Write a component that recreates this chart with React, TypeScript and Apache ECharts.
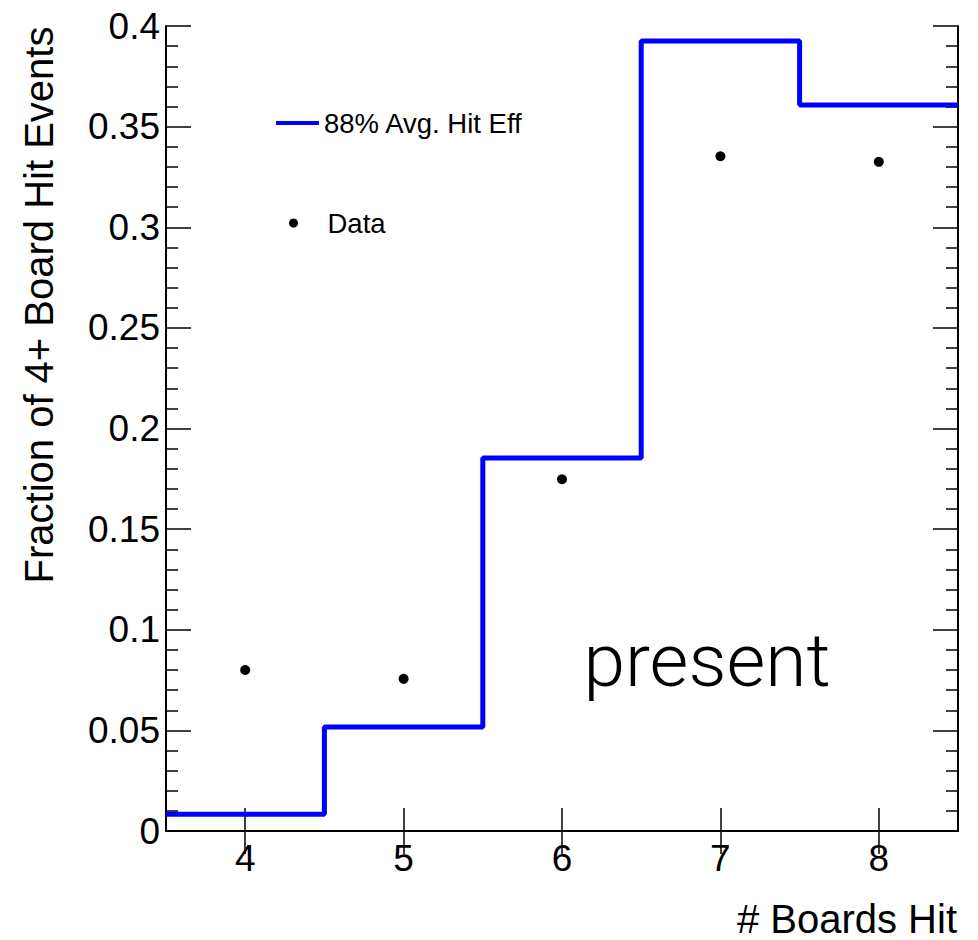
import React, { useEffect, useRef } from 'react';
import * as echarts from 'echarts';

const boards = [4, 5, 6, 7, 8];
const simFraction = [0.0083, 0.0517, 0.1854, 0.3926, 0.3607];
const dataFraction = [0.08, 0.0756, 0.1748, 0.3353, 0.3325];
const xTicks = [4, 5, 6, 7, 8];
const simName = '88% Avg. Hit Eff';
const dataName = 'Data';
const xTitle = '# Boards Hit';
const yTitle = 'Fraction of 4+ Board Hit Events';
const stampText = 'present';

const FONT = '"Liberation Sans", Arial, Helvetica, sans-serif';

export default function App() {
  const ref = useRef<HTMLDivElement>(null);
  useEffect(() => {
    document.body.style.margin = '0';
    if (!ref.current) return;
    const chart = echarts.init(ref.current, undefined, { renderer: 'svg' });
    const stepData: number[][] = boards.map((b, i) => [b - 0.5, simFraction[i]]);
    stepData.push([boards[boards.length - 1] + 0.5, simFraction[simFraction.length - 1]]);
    const scatterData = boards.map((b, i) => [b, dataFraction[i]]);

    const axisLine = { show: true, lineStyle: { color: '#000', width: 2 } };
    const xMin = boards[0] - 0.5;
    const xMax = boards[boards.length - 1] + 0.5;

    chart.setOption({
      animation: false,
      backgroundColor: '#fff',
      grid: { left: 166, right: 20, top: 26, bottom: 109, containLabel: false },
      xAxis: [
        {
          type: 'value', position: 'bottom', min: xMin, max: xMax,
          axisLine,
          axisTick: { show: true, inside: true, length: 23, customValues: xTicks, lineStyle: { color: '#000', width: 1.5 } },
          axisLabel: { show: true, customValues: xTicks, margin: 9, fontSize: 37, color: '#000', fontFamily: FONT },
          splitLine: { show: false },
        },
        {
          type: 'value', position: 'top', min: xMin, max: xMax,
          axisLine,
          axisTick: { show: true, inside: true, length: 23, customValues: xTicks, lineStyle: { color: '#000', width: 1.5 } },
          axisLabel: { show: false },
          splitLine: { show: false },
        },
      ],
      yAxis: [
        {
          type: 'value', position: 'left', min: 0, max: 0.4, interval: 0.05,
          axisLine,
          axisTick: { show: true, inside: true, length: 25, lineStyle: { color: '#000', width: 1.5 } },
          minorTick: { show: true, splitNumber: 5, length: 12, lineStyle: { color: '#000', width: 1.5 } },
          axisLabel: { show: true, margin: 6, fontSize: 37, color: '#000', fontFamily: FONT },
          splitLine: { show: false },
          minorSplitLine: { show: false },
        },
        {
          type: 'value', position: 'right', min: 0, max: 0.4, interval: 0.05,
          axisLine,
          axisTick: { show: true, inside: true, length: 25, lineStyle: { color: '#000', width: 1.5 } },
          minorTick: { show: true, splitNumber: 5, length: 12, lineStyle: { color: '#000', width: 1.5 } },
          axisLabel: { show: false },
          splitLine: { show: false },
          minorSplitLine: { show: false },
        },
      ],
      legend: [
        {
          data: [{ name: simName, icon: 'rect', itemStyle: { color: '#0000ff' } }], orient: 'vertical', left: 276, top: 109, padding: 0,
          itemWidth: 43, itemHeight: 4,
          textStyle: { fontSize: 27.5, color: '#000', fontFamily: FONT, lineHeight: 28 },
          selectedMode: false,
        },
        {
          data: [{ name: dataName, icon: 'circle', itemStyle: { color: '#000', opacity: 1 } }], orient: 'vertical', left: 289, top: 209, padding: 0,
          itemWidth: 58, itemHeight: 9,
          textStyle: { fontSize: 27.5, color: '#000', fontFamily: FONT, lineHeight: 28 },
          selectedMode: false,
        },
      ],
      series: [
        {
          name: simName, type: 'line', data: stepData, step: 'end',
          xAxisIndex: 0, yAxisIndex: 0,
          symbol: 'none', showSymbol: false,
          lineStyle: { color: '#0000ff', width: 5 },
          itemStyle: { color: '#0000ff' },
          clip: true,
        },
        {
          name: dataName, type: 'scatter', data: scatterData,
          xAxisIndex: 0, yAxisIndex: 0,
          symbol: 'circle', symbolSize: 10,
          itemStyle: { color: '#000', opacity: 1 },
        },
      ],
      graphic: [
        {
          type: 'text', x: 39, y: 305, rotation: Math.PI / 2,
          style: { text: yTitle, fontSize: 40, fontFamily: FONT, fill: '#000', align: 'center', verticalAlign: 'middle' },
        },
        {
          type: 'text', x: 957, y: 919,
          style: { text: xTitle, fontSize: 40, fontFamily: FONT, fill: '#000', align: 'right', verticalAlign: 'middle' },
        },
        {
          type: 'text', x: 707, y: 660,
          style: { text: stampText, fontSize: 75, fontWeight: 300, fontFamily: 'Roboto, "Helvetica Neue", sans-serif', fill: '#000', align: 'center', verticalAlign: 'middle' },
        },
      ],
    });
    return () => chart.dispose();
  }, []);
  return <div ref={ref} style={{ width: 978, height: 940 }} />;
}
